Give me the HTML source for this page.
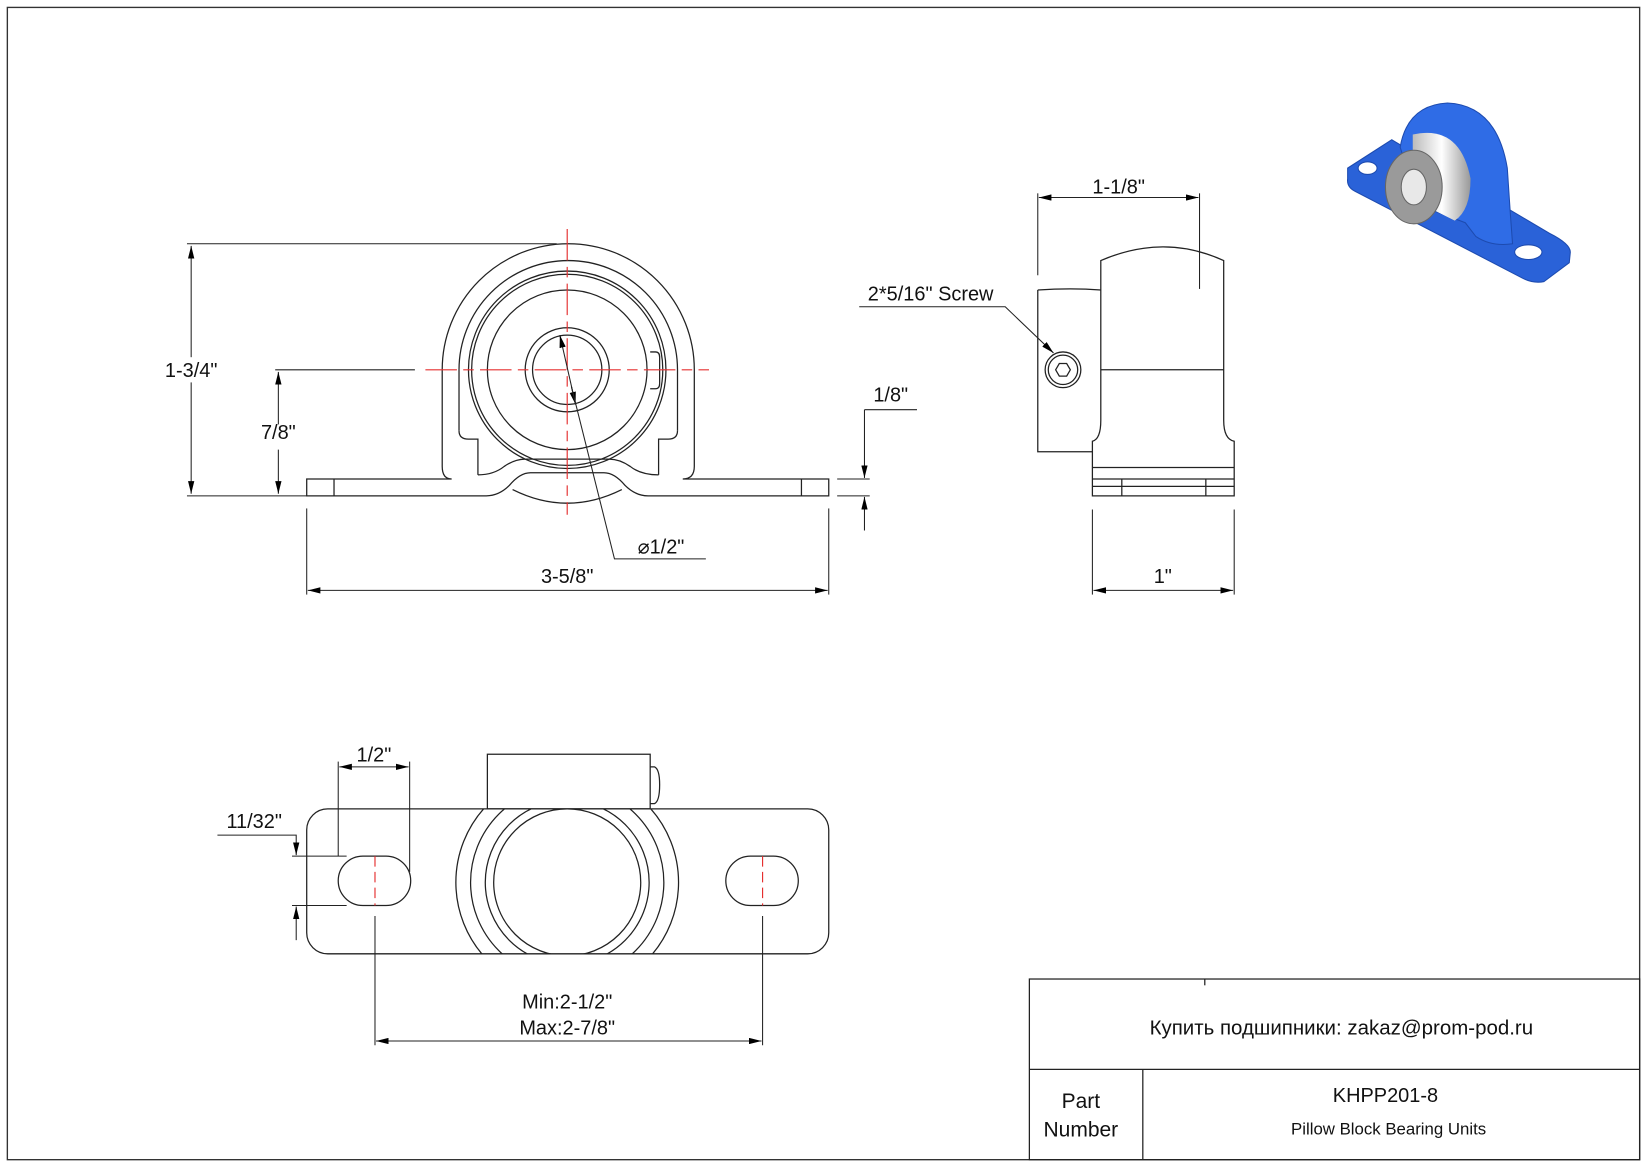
<!DOCTYPE html>
<html><head><meta charset="utf-8"><style>
html,body{margin:0;padding:0;background:#fff}
svg{display:block}
text{font-family:"Liberation Sans","Noto Sans CJK SC",sans-serif;fill:#111}
</style></head><body>
<svg width="1647" height="1165" viewBox="0 0 1568 1109" xmlns="http://www.w3.org/2000/svg">
<defs>
<marker id="a" viewBox="0 0 12 6" refX="12" refY="3" markerWidth="12" markerHeight="6" orient="auto-start-reverse" markerUnits="userSpaceOnUse"><path d="M0,0 L12,3 L0,6z" fill="#000"/></marker>
<linearGradient id="g" x1="0" x2="1"><stop offset="0" stop-color="#bbb"/><stop offset=".5" stop-color="#fff"/><stop offset="1" stop-color="#999"/></linearGradient>
<clipPath id="pc"><rect x="292" y="770" width="497" height="138"/></clipPath>
</defs>
<rect x="7" y="7" width="1554" height="1097" fill="none" stroke="#333" stroke-width="1.3"/>

<g fill="none" stroke="#222" stroke-width="1.2">
<!-- FRONT VIEW -->
<path d="M292,456 H430 Q421,456 421,444 V352 A120,120 0 0 1 661,352 V444 Q661,456 650,456 H789 V472 H617 Q605,472 595,462 Q585,450 575,450 H505 Q495,450 485,462 Q475,472 463,472 H292 Z"/>
<line x1="318" y1="456" x2="318" y2="472"/><line x1="763" y1="456" x2="763" y2="472"/>
<path d="M437,410 V352 A104,104 0 0 1 645,352 V410"/>
<path d="M437,410 Q437,418 446,418 H455 V452"/>
<path d="M645,410 Q645,418 636,418 H627 V452"/>
<path d="M455,452 Q470,452 480,444 Q490,437 500,437 H580 Q590,437 600,444 Q610,452 627,452"/>
<path d="M488,466 Q540,492 592,466"/>
<circle cx="540" cy="352" r="94"/><circle cx="540" cy="352" r="91"/>
<circle cx="540" cy="352" r="76"/>
<circle cx="540" cy="352" r="40"/><circle cx="540" cy="352" r="33"/>
<path d="M619,335 H624 Q628,335 628,340 V365 Q628,370 624,370 H619"/>
</g>
<g stroke="#e53030" stroke-width="1.1" fill="none" stroke-dasharray="30,6,10,6">
<line x1="405" y1="352" x2="675" y2="352"/><line x1="540" y1="218" x2="540" y2="490"/>
</g>
<g stroke="#222" stroke-width="1" fill="none">
<line x1="178" y1="232" x2="530" y2="232"/><line x1="178" y1="472" x2="292" y2="472"/>
<line x1="182" y1="234" x2="182" y2="470" marker-start="url(#a)" marker-end="url(#a)"/>
<line x1="262" y1="352" x2="395" y2="352"/>
<line x1="265" y1="354" x2="265" y2="470" marker-start="url(#a)" marker-end="url(#a)"/>
<line x1="797" y1="456" x2="828" y2="456"/><line x1="797" y1="472" x2="828" y2="472"/>
<line x1="873" y1="390" x2="823" y2="390"/><line x1="823" y1="390" x2="823" y2="455" marker-end="url(#a)"/>
<line x1="823" y1="505" x2="823" y2="473" marker-end="url(#a)"/>
<line x1="292" y1="484" x2="292" y2="566"/><line x1="789" y1="484" x2="789" y2="566"/>
<line x1="293" y1="562" x2="788" y2="562" marker-start="url(#a)" marker-end="url(#a)"/>
<line x1="548" y1="385" x2="533" y2="319" marker-end="url(#a)"/>
<line x1="544" y1="368" x2="548" y2="385" marker-end="url(#a)"/>
<polyline points="544,368 585,532 672,532"/>
</g>
<rect x="150" y="340" width="64" height="24" fill="#fff"/>
<rect x="243" y="404" width="44" height="24" fill="#fff"/>
<g font-size="19">
<text x="182" y="359" text-anchor="middle">1-3/4"</text>
<text x="265" y="418" text-anchor="middle">7/8"</text>
<text x="848" y="382" text-anchor="middle">1/8"</text>
<text x="540" y="555" text-anchor="middle">3-5/8"</text>
<text x="607" y="527">⌀1/2"</text>
</g>

<!-- SIDE VIEW -->
<g fill="none" stroke="#222" stroke-width="1.2">
<path d="M988,276 Q1020,274 1048,276 M988,276 V430 H1040"/>
<circle cx="1012" cy="352" r="17"/><circle cx="1012" cy="352" r="14"/>
<polygon points="1005,352 1008.5,346 1015.5,346 1019,352 1015.5,358 1008.5,358"/>
<path d="M1048,248 Q1108,222 1165,248 V400 Q1165,418 1175,420 V472 H1040 V420 Q1048,418 1048,400 Z"/>
<line x1="1048" y1="352" x2="1165" y2="352"/>
<line x1="1040" y1="445" x2="1175" y2="445"/>
<line x1="1040" y1="456" x2="1175" y2="456"/>
<line x1="1040" y1="463" x2="1175" y2="463"/>
<line x1="1068" y1="456" x2="1068" y2="472"/><line x1="1148" y1="456" x2="1148" y2="472"/>
</g>
<g stroke="#222" stroke-width="1" fill="none">
<line x1="988" y1="184" x2="988" y2="262"/><line x1="1142" y1="184" x2="1142" y2="275"/>
<line x1="989" y1="188" x2="1141" y2="188" marker-start="url(#a)" marker-end="url(#a)"/>
<line x1="1040" y1="485" x2="1040" y2="566"/><line x1="1175" y1="485" x2="1175" y2="566"/>
<line x1="1041" y1="562" x2="1174" y2="562" marker-start="url(#a)" marker-end="url(#a)"/>
<polyline points="818,292 957,292 1003,336" marker-end="url(#a)"/>
</g>
<g font-size="19">
<text x="1065" y="184" text-anchor="middle">1-1/8"</text>
<text x="1107" y="555" text-anchor="middle">1"</text>
<text x="886" y="286" text-anchor="middle">2*5/16" Screw</text>
</g>

<!-- BOTTOM VIEW -->
<g fill="none" stroke="#222" stroke-width="1.2">
<rect x="464" y="718" width="155" height="52"/>
<path d="M619,730 H623 Q628,732 628,747 Q628,763 623,765 H619"/>
<rect x="292" y="770" width="497" height="138" rx="20"/>
<g clip-path="url(#pc)">
<circle cx="540" cy="840" r="70"/>
<circle cx="540" cy="840" r="78"/>
<circle cx="540" cy="840" r="92"/>
<circle cx="540" cy="840" r="106"/>
</g>
<rect x="322" y="815" width="69" height="47" rx="23.5"/>
<rect x="691" y="815" width="69" height="47" rx="23.5"/>
</g>
<g stroke="#e53030" stroke-width="1.1" stroke-dasharray="10,5">
<line x1="357" y1="815" x2="357" y2="862"/><line x1="726" y1="815" x2="726" y2="862"/>
</g>
<g stroke="#222" stroke-width="1" fill="none">
<line x1="322" y1="725" x2="322" y2="815"/><line x1="390" y1="725" x2="390" y2="830"/>
<line x1="323" y1="730" x2="389" y2="730" marker-start="url(#a)" marker-end="url(#a)"/>
<line x1="278" y1="815" x2="330" y2="815"/><line x1="278" y1="862" x2="330" y2="862"/>
<polyline points="207,795 282,795 282,814" marker-end="url(#a)"/>
<line x1="282" y1="895" x2="282" y2="863" marker-end="url(#a)"/>
<line x1="357" y1="872" x2="357" y2="995"/><line x1="726" y1="872" x2="726" y2="995"/>
<line x1="358" y1="991" x2="725" y2="991" marker-start="url(#a)" marker-end="url(#a)"/>
</g>
<g font-size="19">
<text x="356" y="725" text-anchor="middle">1/2"</text>
<text x="242" y="788" text-anchor="middle">11/32"</text>
<text x="540" y="960" text-anchor="middle">Min:2-1/2"</text>
<text x="540" y="985" text-anchor="middle">Max:2-7/8"</text>
</g>

<!-- TITLE BLOCK -->
<g fill="none" stroke="#222" stroke-width="1.2">
<rect x="980" y="932" width="581" height="172"/>
<line x1="980" y1="1018" x2="1561" y2="1018"/>
<line x1="1088" y1="1018" x2="1088" y2="1104"/>
<line x1="1147" y1="932" x2="1147" y2="938"/>
</g>
<text x="1277" y="985" font-size="19.5" text-anchor="middle">Купить подшипники: zakaz@prom-pod.ru</text>
<text x="1029" y="1055" font-size="20" text-anchor="middle">Part</text>
<text x="1029" y="1082" font-size="20" text-anchor="middle">Number</text>
<text x="1319" y="1049" font-size="19" text-anchor="middle">KHPP201-8</text>
<text x="1322" y="1080" font-size="16" text-anchor="middle">Pillow Block Bearing Units</text>

<!-- 3D ICON -->
<g>
<path d="M1283,160 L1325,133 L1350,148 L1475,222 Q1495,232 1495,240 L1494,250 L1470,268 Q1460,270 1450,265 L1290,182 Q1282,178 1283,170 Z" fill="#2a62d8" stroke="#1d4bb0"/>
<ellipse cx="1455" cy="240" rx="13" ry="7" fill="#fff" stroke="#1d4bb0"/>
<ellipse cx="1302" cy="160" rx="9" ry="6" fill="#fff" stroke="#1d4bb0"/>
<path d="M1333,140 Q1340,100 1378,98 Q1425,100 1435,160 L1438,205 L1440,232 Q1420,235 1405,225 L1395,212 L1350,195 Z" fill="#2f6ce6" stroke="#1d4bb0"/>
<path d="M1345,128 Q1390,118 1400,170 Q1400,200 1385,210 L1345,190 Z" fill="url(#g)"/>
<ellipse cx="1346" cy="178" rx="27" ry="35" fill="#9a9a9a" stroke="#666"/>
<ellipse cx="1346" cy="178" rx="12" ry="17" fill="#e8e8e8" stroke="#666"/>
</g>
</svg>
</body></html>
